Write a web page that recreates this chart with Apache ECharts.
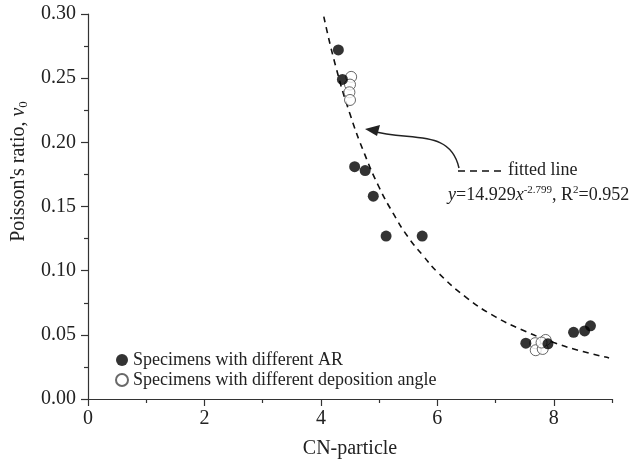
<!DOCTYPE html>
<html>
<head>
<meta charset="utf-8">
<script src="https://cdn.jsdelivr.net/npm/echarts@6/dist/echarts.min.js"></script>
<style>
  html, body { margin: 0; padding: 0; background: #fff; }
  #chart { width: 636px; height: 466px; }
</style>
</head>
<body>
<div id="chart"></div>
<script>
// specimens with different aspect ratio (filled dots)
const arCN = [4.30, 4.37, 4.58, 4.76, 4.90, 5.12, 5.74, 7.52, 7.90, 8.34, 8.53, 8.63];
const arPoisson = [0.272, 0.249, 0.181, 0.178, 0.158, 0.127, 0.127, 0.0435, 0.043, 0.052, 0.053, 0.057];

// specimens with different deposition angle (open circles)
const angleCN = [4.52, 4.50, 4.49, 4.50, 7.68, 7.69, 7.81, 7.86, 7.79];
const anglePoisson = [0.251, 0.245, 0.239, 0.233, 0.0435, 0.038, 0.039, 0.046, 0.044];

// points
const fitCN = [4.05, 4.25, 4.5, 4.75, 5.0, 5.25, 5.5, 5.75, 6.0, 6.5, 7.0, 7.5, 8.0, 8.5, 8.95];
const fitPoisson = [0.298, 0.260, 0.222, 0.191, 0.165, 0.144, 0.126, 0.112, 0.099, 0.079, 0.064, 0.053, 0.044, 0.037, 0.032];

const xTicks = [0, 2, 4, 6, 8];
const xMinorTicks = [1, 3, 5, 7, 9];

const zip = (xs, ys) => xs.map((x, i) => [x, ys[i]]);
const serif = '"Liberation Serif", "DejaVu Serif", serif';
const ink = '#222';

const chart = echarts.init(document.getElementById('chart'));

chart.setOption({
  animation: false,
  backgroundColor: '#fff',
  grid: {left: 88, right: 24, top: 14, bottom: 67},
  legend: {
    data: ['Specimens with different AR', 'Specimens with different deposition angle'],
    orient: 'vertical',
    left: 110,
    top: 346,
    itemGap: 2,
    itemWidth: 12,
    itemHeight: 12,
    textStyle: {fontFamily: serif, fontSize: 18, color: ink},
  },
  xAxis: [{
    type: 'value',
    min: 0,
    max: 9,
    name: 'CN-particle',
    nameLocation: 'middle',
    nameGap: 40,
    nameTextStyle: {fontFamily: serif, fontSize: 20, color: ink},
    axisLine: {onZero: false, lineStyle: {color: '#333', width: 1.2}},
    axisTick: {customValues: xTicks, length: 7, lineStyle: {color: '#333', width: 1.2}},
    axisLabel: {customValues: xTicks, fontFamily: serif, fontSize: 20, color: ink, margin: 10},
    splitLine: {show: false},
  }, {
    type: 'value',
    min: 0,
    max: 9,
    position: 'bottom',
    axisLine: {show: false},
    axisTick: {customValues: xMinorTicks, length: 4, lineStyle: {color: '#333', width: 1.2}},
    axisLabel: {show: false},
    splitLine: {show: false},
  }],
  yAxis: {
    type: 'value',
    min: 0,
    max: 0.30,
    interval: 0.05,
    name: "Poisson's ratio, {i|ν}{s|0}",
    nameLocation: 'middle',
    nameGap: 54,
    nameTextStyle: {
      fontFamily: serif, fontSize: 20, color: ink,
      padding: [0, 0, 0, 70],
      rich: {
        i: {fontFamily: serif, fontSize: 20, fontStyle: 'italic', color: ink},
        s: {fontFamily: serif, fontSize: 13, color: ink, verticalAlign: 'bottom', padding: [9, 0, 0, 0]},
      },
    },
    axisLine: {show: true, onZero: false, lineStyle: {color: '#333', width: 1.2}},
    axisTick: {show: true, length: 7, lineStyle: {color: '#333', width: 1.2}},
    minorTick: {show: true, splitNumber: 2, length: 4, lineStyle: {color: '#333', width: 1.2}},
    axisLabel: {
      fontFamily: serif, fontSize: 20, color: ink, margin: 12,
      formatter: v => v.toFixed(2),
    },
    splitLine: {show: false},
  },
  series: [{
    name: 'fitted line',
    type: 'line',
    smooth: true,
    symbol: 'none',
    data: zip(fitCN, fitPoisson),
    lineStyle: {color: '#111', width: 1.6, type: [6, 5]},
    z: 1,
  }, {
    name: 'Specimens with different deposition angle',
    type: 'scatter',
    symbol: 'circle',
    symbolSize: 11,
    data: zip(angleCN, anglePoisson),
    itemStyle: {color: '#fff', borderColor: '#444', borderWidth: 1},
    z: 2,
  }, {
    name: 'Specimens with different AR',
    type: 'scatter',
    symbol: 'circle',
    symbolSize: 11,
    data: zip(arCN, arPoisson),
    itemStyle: {color: '#000'},
    z: 3,
  }],
  graphic: [{
    // curved arrow pointing at the fitted curve
    type: 'bezierCurve',
    shape: {x1: 459, y1: 168, cpx1: 450, cpy1: 128, cpx2: 410, cpy2: 142, x2: 372, y2: 131},
    style: {stroke: ink, lineWidth: 1.5, fill: null},
  }, {
    type: 'polygon',
    shape: {points: [[365, 129], [380, 125], [377, 136]]},
    style: {fill: ink},
  }, {
    // key for the fitted line
    type: 'line',
    shape: {x1: 458, y1: 171, x2: 502, y2: 171},
    style: {stroke: '#111', lineWidth: 1.6, lineDash: [7, 5]},
  }, {
    type: 'text',
    left: 508,
    top: 161,
    style: {text: 'fitted line', fontFamily: serif, fontSize: 18, fill: ink},
  }, {
    type: 'text',
    left: 448,
    top: 185,
    style: {
      text: '{i|y}=14.929{i|x}{sup|-2.799}, R{sup|2}=0.952',
      fontFamily: serif,
      fontSize: 18,
      fill: ink,
      rich: {
        i: {fontFamily: serif, fontSize: 18, fontStyle: 'italic', fill: ink},
        sup: {fontFamily: serif, fontSize: 11, fill: ink, verticalAlign: 'top', padding: [0, 0, 9, 0]},
      },
    },
  }],
});
</script>
</body>
</html>
